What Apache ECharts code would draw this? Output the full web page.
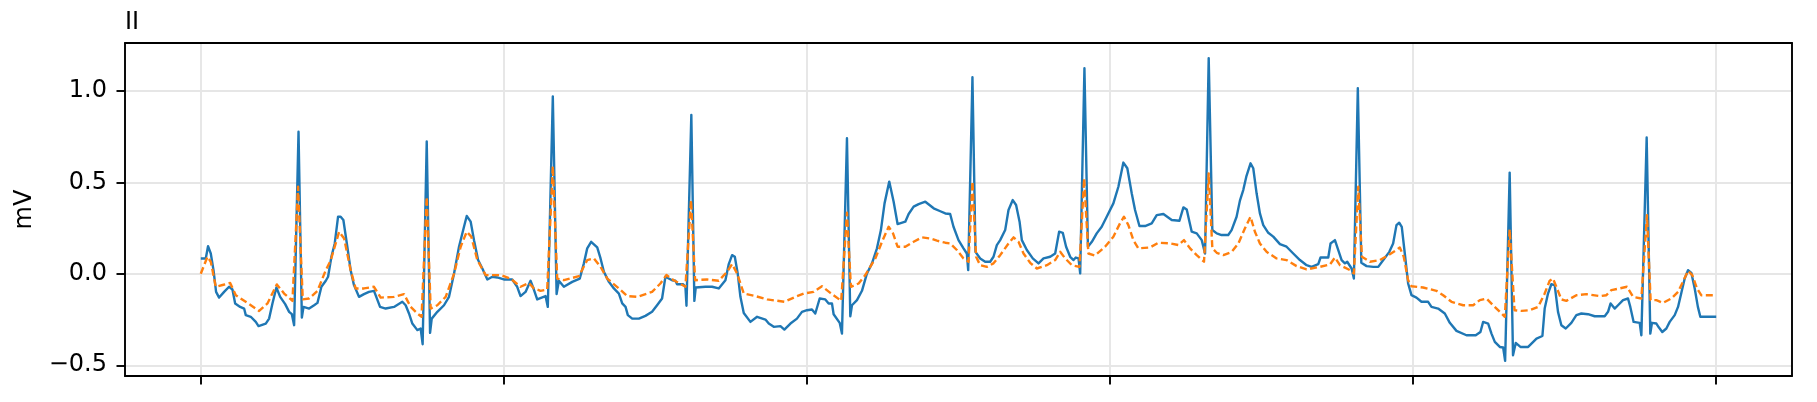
<!DOCTYPE html>
<html>
<head>
<meta charset="utf-8">
<script src="https://cdn.jsdelivr.net/npm/echarts@6/dist/echarts.min.js"></script>
<style>
html,body{margin:0;padding:0;background:#fff;}
#chart{width:1817px;height:402px;}
</style>
</head>
<body>
<div id="chart"></div>
<script>
// Lead II, original signal (blue, solid): time in s, amplitude in mV
const leadTime = [0.000,0.033,0.048,0.066,0.084,0.101,0.121,0.154,0.187,0.209,0.227,0.260,0.286,0.297,0.330,0.363,0.381,0.429,0.451,0.473,0.499,0.524,0.557,0.583,0.601,0.616,0.645,0.667,0.678,0.715,0.748,0.770,0.796,0.825,0.840,0.862,0.884,0.906,0.923,0.941,0.967,0.989,1.011,1.044,1.077,1.110,1.143,1.183,1.220,1.275,1.330,1.352,1.374,1.396,1.429,1.451,1.464,1.491,1.513,1.524,1.561,1.605,1.638,1.671,1.704,1.737,1.755,1.781,1.803,1.830,1.858,1.891,1.924,1.956,2.000,2.055,2.088,2.110,2.143,2.176,2.198,2.220,2.275,2.290,2.323,2.348,2.363,2.396,2.451,2.501,2.528,2.550,2.576,2.616,2.638,2.660,2.693,2.726,2.759,2.781,2.803,2.818,2.847,2.891,2.934,2.978,3.011,3.044,3.066,3.077,3.110,3.132,3.143,3.183,3.198,3.205,3.237,3.257,3.266,3.330,3.374,3.418,3.429,3.462,3.484,3.506,3.524,3.543,3.561,3.583,3.627,3.671,3.726,3.748,3.781,3.825,3.851,3.891,3.934,3.967,4.000,4.033,4.055,4.084,4.121,4.143,4.165,4.176,4.216,4.231,4.264,4.286,4.297,4.330,4.363,4.396,4.429,4.462,4.488,4.512,4.543,4.572,4.598,4.649,4.671,4.704,4.737,4.781,4.836,4.880,4.913,4.945,4.956,4.967,5.000,5.033,5.055,5.064,5.092,5.112,5.143,5.176,5.209,5.231,5.253,5.275,5.308,5.330,5.358,5.380,5.403,5.418,5.451,5.490,5.528,5.561,5.605,5.638,5.664,5.688,5.710,5.737,5.759,5.774,5.792,5.803,5.831,5.854,5.880,5.890,5.912,5.945,5.978,6.022,6.055,6.088,6.114,6.143,6.165,6.194,6.231,6.275,6.308,6.352,6.407,6.458,6.484,6.506,6.524,6.539,6.572,6.605,6.627,6.651,6.675,6.704,6.736,6.780,6.802,6.835,6.857,6.879,6.899,6.927,6.945,6.967,6.989,7.011,7.044,7.077,7.121,7.165,7.209,7.253,7.297,7.330,7.374,7.389,7.440,7.455,7.484,7.506,7.528,7.550,7.565,7.594,7.609,7.635,7.658,7.693,7.737,7.770,7.803,7.843,7.868,7.890,7.908,7.925,7.945,7.967,7.989,8.022,8.055,8.099,8.121,8.165,8.209,8.242,8.286,8.352,8.413,8.444,8.462,8.495,8.517,8.539,8.572,8.594,8.607,8.637,8.659,8.677,8.708,8.759,8.814,8.853,8.868,8.890,8.912,8.934,8.956,8.978,9.007,9.044,9.077,9.110,9.154,9.198,9.264,9.286,9.303,9.330,9.352,9.385,9.418,9.433,9.455,9.495,9.506,9.541,9.565,9.576,9.605,9.622,9.644,9.671,9.693,9.726,9.748,9.770,9.792,9.814,9.836,9.858,9.879,9.895,9.934,10.000];
const leadMv = [0.084,0.084,0.151,0.111,0.020,-0.099,-0.130,-0.099,-0.071,-0.086,-0.162,-0.181,-0.190,-0.226,-0.235,-0.263,-0.286,-0.272,-0.245,-0.162,-0.075,-0.126,-0.166,-0.208,-0.221,-0.281,0.777,-0.239,-0.181,-0.190,-0.172,-0.159,-0.071,-0.038,-0.016,0.093,0.166,0.312,0.312,0.294,0.148,0.020,-0.062,-0.126,-0.111,-0.099,-0.093,-0.181,-0.190,-0.181,-0.153,-0.172,-0.217,-0.272,-0.308,-0.299,-0.385,0.723,-0.323,-0.245,-0.208,-0.172,-0.126,0.000,0.148,0.257,0.316,0.285,0.184,0.075,0.029,-0.031,-0.016,-0.020,-0.031,-0.031,-0.071,-0.122,-0.099,-0.038,-0.086,-0.140,-0.122,-0.181,0.969,-0.111,-0.038,-0.071,-0.044,-0.026,0.057,0.139,0.175,0.144,0.084,0.011,-0.044,-0.080,-0.108,-0.162,-0.181,-0.226,-0.245,-0.245,-0.230,-0.208,-0.172,-0.135,-0.016,-0.013,-0.035,-0.038,-0.057,-0.057,-0.071,-0.175,0.869,-0.148,-0.075,-0.071,-0.071,-0.080,-0.089,-0.035,0.053,0.102,0.093,0.002,-0.126,-0.214,-0.263,-0.235,-0.250,-0.272,-0.290,-0.286,-0.305,-0.272,-0.245,-0.208,-0.199,-0.195,-0.217,-0.135,-0.140,-0.162,-0.162,-0.221,-0.268,-0.327,0.741,-0.232,-0.172,-0.144,-0.093,0.002,0.057,0.139,0.239,0.385,0.504,0.394,0.272,0.285,0.327,0.367,0.381,0.394,0.358,0.342,0.330,0.327,0.320,0.257,0.184,0.139,0.111,0.020,1.075,0.120,0.084,0.066,0.066,0.093,0.157,0.184,0.239,0.349,0.403,0.376,0.285,0.184,0.130,0.084,0.057,0.084,0.093,0.111,0.230,0.224,0.148,0.093,0.075,0.089,0.084,0.002,1.124,0.148,0.175,0.175,0.221,0.257,0.312,0.385,0.476,0.608,0.577,0.440,0.349,0.261,0.261,0.276,0.321,0.327,0.294,0.290,0.363,0.352,0.285,0.230,0.221,0.184,0.111,1.179,0.239,0.221,0.212,0.212,0.239,0.312,0.400,0.458,0.531,0.604,0.577,0.440,0.330,0.266,0.224,0.203,0.162,0.148,0.111,0.075,0.047,0.038,0.053,0.089,0.089,0.166,0.184,0.130,0.075,0.057,0.066,0.029,-0.026,1.015,0.060,0.042,0.038,0.038,0.075,0.120,0.166,0.266,0.279,0.257,0.111,-0.053,-0.117,-0.130,-0.153,-0.153,-0.181,-0.190,-0.217,-0.268,-0.312,-0.336,-0.336,-0.318,-0.263,-0.272,-0.327,-0.372,-0.400,-0.403,-0.476,0.553,-0.445,-0.378,-0.400,-0.400,-0.354,-0.340,-0.190,-0.108,-0.057,-0.062,-0.208,-0.281,-0.299,-0.268,-0.226,-0.217,-0.221,-0.232,-0.232,-0.208,-0.162,-0.190,-0.172,-0.144,-0.135,-0.181,-0.263,-0.268,-0.336,0.745,-0.327,-0.268,-0.272,-0.294,-0.318,-0.299,-0.263,-0.226,-0.181,-0.104,-0.026,0.020,0.005,-0.080,-0.181,-0.235,-0.235,-0.235];

// Lead II, reconstructed signal (orange, dashed)
const reconTime = [0.000,0.044,0.066,0.099,0.150,0.194,0.231,0.308,0.385,0.440,0.502,0.550,0.605,0.642,0.673,0.715,0.770,0.825,0.858,0.913,0.946,0.989,1.022,1.077,1.143,1.187,1.275,1.341,1.385,1.429,1.457,1.491,1.517,1.561,1.616,1.671,1.715,1.755,1.785,1.825,1.880,1.978,2.044,2.110,2.165,2.198,2.242,2.286,2.323,2.352,2.396,2.495,2.550,2.594,2.638,2.682,2.759,2.814,2.880,2.978,3.033,3.073,3.121,3.198,3.235,3.262,3.341,3.418,3.473,3.506,3.539,3.583,3.660,3.737,3.851,3.924,3.978,4.044,4.099,4.154,4.226,4.264,4.290,4.341,4.385,4.451,4.495,4.539,4.568,4.598,4.649,4.704,4.759,4.814,4.858,4.913,4.945,4.989,5.033,5.066,5.092,5.116,5.143,5.187,5.231,5.275,5.330,5.363,5.396,5.429,5.473,5.517,5.583,5.638,5.671,5.704,5.748,5.798,5.829,5.857,5.901,5.967,6.022,6.066,6.092,6.121,6.154,6.187,6.264,6.319,6.396,6.451,6.488,6.528,6.572,6.620,6.651,6.675,6.704,6.748,6.803,6.847,6.891,6.927,6.956,6.989,7.033,7.099,7.165,7.231,7.297,7.385,7.451,7.484,7.517,7.583,7.609,7.638,7.662,7.715,7.781,7.836,7.880,7.912,7.938,7.967,7.989,8.066,8.154,8.198,8.253,8.330,8.396,8.440,8.484,8.528,8.572,8.605,8.637,8.669,8.715,8.770,8.825,8.868,8.901,8.923,8.945,8.978,9.011,9.077,9.143,9.231,9.275,9.308,9.363,9.411,9.451,9.506,9.543,9.567,9.605,9.649,9.704,9.748,9.780,9.814,9.842,9.873,9.901,10.000];
const reconMv = [0.000,0.093,0.066,-0.071,-0.060,-0.050,-0.117,-0.159,-0.203,-0.162,-0.058,-0.108,-0.148,0.476,-0.140,-0.135,-0.093,0.020,0.075,0.230,0.193,0.020,-0.080,-0.080,-0.071,-0.130,-0.126,-0.111,-0.181,-0.217,-0.235,0.420,-0.190,-0.172,-0.126,0.000,0.148,0.230,0.203,0.075,-0.007,-0.007,-0.026,-0.071,-0.050,-0.080,-0.093,-0.086,0.589,-0.026,-0.035,-0.013,0.075,0.084,0.038,-0.026,-0.080,-0.122,-0.126,-0.099,-0.053,-0.007,-0.035,-0.071,0.403,-0.035,-0.031,-0.038,0.011,0.053,0.002,-0.108,-0.122,-0.140,-0.153,-0.126,-0.108,-0.099,-0.068,-0.104,-0.148,0.334,-0.071,-0.053,-0.007,0.084,0.175,0.257,0.221,0.148,0.148,0.175,0.199,0.193,0.181,0.170,0.166,0.130,0.084,0.066,0.504,0.093,0.047,0.038,0.057,0.102,0.166,0.199,0.175,0.111,0.060,0.029,0.047,0.075,0.120,0.084,0.047,0.038,0.522,0.111,0.100,0.148,0.203,0.276,0.312,0.266,0.184,0.139,0.144,0.170,0.166,0.157,0.184,0.139,0.102,0.066,0.549,0.139,0.115,0.102,0.120,0.166,0.250,0.312,0.230,0.166,0.120,0.084,0.075,0.042,0.024,0.038,0.051,0.089,0.047,0.020,0.002,0.476,0.093,0.066,0.075,0.102,0.125,0.144,0.093,-0.035,-0.068,-0.075,-0.093,-0.117,-0.153,-0.172,-0.172,-0.144,-0.135,-0.172,-0.208,-0.235,0.243,-0.199,-0.203,-0.199,-0.181,-0.108,-0.038,-0.026,-0.071,-0.140,-0.148,-0.117,-0.111,-0.122,-0.117,-0.089,-0.080,-0.071,-0.126,-0.135,0.321,-0.144,-0.144,-0.159,-0.135,-0.099,-0.044,0.016,-0.007,-0.080,-0.117,-0.117];

const yTickValues = [-0.5, 0, 0.5, 1.0];
const xTickValues = [0, 2, 4, 6, 8, 10];
const panelTitle = 'II';
const yName = 'mV';

function pairs(t, v) { return t.map((x, i) => [x, v[i]]); }

// matplotlib-like 5% auto margins
const allV = leadMv.concat(reconMv);
const vLo = Math.min(...allV), vHi = Math.max(...allV);
const vPad = 0.05 * (vHi - vLo);
const yMin = vLo - vPad, yMax = vHi + vPad;
const allT = leadTime.concat(reconTime);
const tLo = Math.min(...allT), tHi = Math.max(...allT);
const tPad = 0.05 * (tHi - tLo);
const xMin = tLo - tPad, xMax = tHi + tPad;

const FONT = 'DejaVu Sans';
const fmt = v => {
  const s = Math.abs(v).toFixed(1);
  return v < -1e-9 ? '\u2212' + s : s;
};

const frameAxis = (pos, min, max) => ({
  type: 'value', min: min, max: max, position: pos, z: 5,
  axisLine: { show: true, onZero: false, lineStyle: { color: '#000', width: 1.9 } },
  axisTick: { show: false }, axisLabel: { show: false }, splitLine: { show: false }
});

const chart = echarts.init(document.getElementById('chart'), null, { renderer: 'canvas' });
chart.setOption({
  animation: false,
  backgroundColor: '#fff',
  title: {
    text: panelTitle, left: 120, top: 6,
    textStyle: { fontFamily: FONT, fontSize: 24, fontWeight: 'normal', color: '#000' }
  },
  grid: { left: 125, right: 25, top: 43, bottom: 26, containLabel: false, show: false },
  xAxis: [{
    type: 'value', min: xMin, max: xMax, splitNumber: 5, position: 'bottom',
    axisLine: { show: false, onZero: false },
    axisTick: { show: true, inside: false, length: 8.5, lineStyle: { color: '#000', width: 1.9 }, customValues: xTickValues },
    axisLabel: { show: false },
    splitLine: { show: true, lineStyle: { color: '#e6e6e6', width: 1.9 } }
  }, frameAxis('top', xMin, xMax), frameAxis('bottom', xMin, xMax)],
  yAxis: [{
    type: 'value', min: yMin, max: yMax, splitNumber: 4, position: 'left',
    name: yName, nameLocation: 'middle', nameRotate: 90, nameGap: 88,
    nameTextStyle: { fontFamily: FONT, fontSize: 24, color: '#000' },
    axisLine: { show: false, onZero: false },
    axisTick: { show: true, inside: false, length: 8.5, lineStyle: { color: '#000', width: 1.9 }, customValues: yTickValues },
    axisLabel: {
      show: true, margin: 18, fontFamily: FONT, fontSize: 24, color: '#000',
      customValues: yTickValues,
      formatter: v => fmt(v)
    },
    splitLine: { show: true, lineStyle: { color: '#e6e6e6', width: 1.9 } }
  }, frameAxis('right', yMin, yMax), frameAxis('left', yMin, yMax)],
  series: [{
    name: 'original', type: 'line', xAxisIndex: 0, yAxisIndex: 0,
    data: pairs(leadTime, leadMv), showSymbol: false, symbol: 'none',
    lineStyle: { color: '#1f77b4', width: 2.4, join: 'round' }, z: 2
  }, {
    name: 'reconstructed', type: 'line', xAxisIndex: 0, yAxisIndex: 0,
    data: pairs(reconTime, reconMv), showSymbol: false, symbol: 'none',
    lineStyle: { color: '#ff7f0e', width: 2.4, type: [7, 3.5], join: 'round' }, z: 3
  }]
});
</script>
</body>
</html>
